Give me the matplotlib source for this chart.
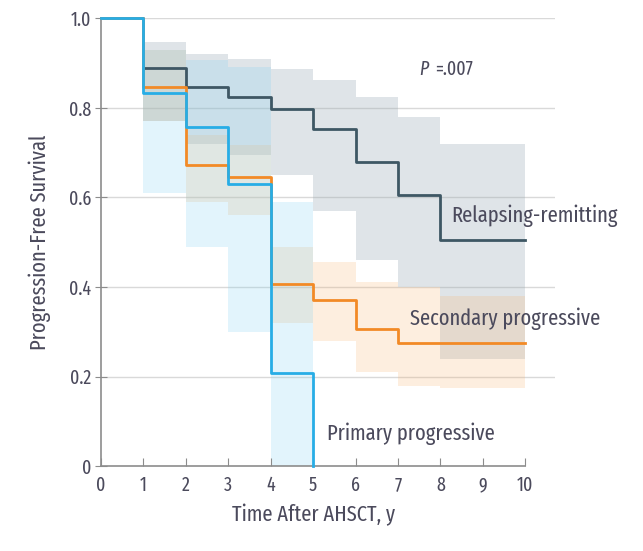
import matplotlib.pyplot as plt

# Kaplan-Meier style step curves, value holds from t[i] to t[i+1]
t_all = [0, 1, 2, 3, 4, 5, 6, 7, 8, 9, 10]

rr_surv = [1.0, 0.888, 0.846, 0.824, 0.797, 0.752, 0.680, 0.605, 0.504, 0.504, 0.504]
rr_lo = [1.0, 0.770, 0.720, 0.694, 0.650, 0.570, 0.460, 0.400, 0.240, 0.240, 0.240]
rr_hi = [1.0, 0.947, 0.920, 0.908, 0.886, 0.861, 0.824, 0.779, 0.720, 0.720, 0.720]

sp_surv = [1.0, 0.846, 0.672, 0.645, 0.406, 0.370, 0.307, 0.274, 0.274, 0.274, 0.274]
sp_lo = [1.0, 0.770, 0.590, 0.560, 0.320, 0.280, 0.210, 0.180, 0.175, 0.175, 0.175]
sp_hi = [1.0, 0.930, 0.740, 0.716, 0.490, 0.455, 0.410, 0.400, 0.380, 0.380, 0.380]

t_pp = [0, 1, 2, 3, 4, 5]
pp_surv = [1.0, 0.833, 0.757, 0.629, 0.207, 0.0]
pp_lo = [1.0, 0.610, 0.490, 0.300, 0.0, 0.0]
pp_hi = [1.0, 0.930, 0.906, 0.890, 0.590, 0.590]

c_rr, c_sp, c_pp = '#3e5764', '#f28a26', '#27ade6'
txt = '#4b4a5c'
font = ['Fira Sans Extra Condensed', 'DejaVu Sans']

fig = plt.figure(figsize=(6.43, 5.51), dpi=100)
ax = fig.add_axes([0.157, 0.154, 0.706, 0.813])

# confidence bands
ax.fill_between(t_all, rr_lo, rr_hi, step='post', color='#98a8b3', alpha=0.3, lw=0)
ax.fill_between(t_all, sp_lo, sp_hi, step='post', color='#f7b26e', alpha=0.22, lw=0)
ax.fill_between(t_pp, pp_lo, pp_hi, step='post', color='#7cd0f2', alpha=0.22, lw=0)

ax.step(t_all, rr_surv, where='post', color=c_rr, lw=2, zorder=4, clip_on=False)
ax.step(t_all, sp_surv, where='post', color=c_sp, lw=2, zorder=4, clip_on=False)
ax.step(t_pp, pp_surv, where='post', color=c_pp, lw=2, zorder=5, clip_on=False)

ax.set_xlim(0, 10.7)
ax.set_ylim(0, 1.0)
ax.set_xticks(range(0, 11))
ax.set_yticks([0, 0.2, 0.4, 0.6, 0.8, 1.0])
ax.set_yticklabels(['0', '0.2', '0.4', '0.6', '0.8', '1.0'])

for y in [0.2, 0.4, 0.6, 0.8, 1.0]:
    ax.axhline(y, color='#d9d9d9', lw=1, zorder=0.5)

for s in ['top', 'right']:
    ax.spines[s].set_visible(False)
ax.spines['bottom'].set_bounds(0, 10)
for s in ['left', 'bottom']:
    ax.spines[s].set_color('#8c8c8c')
    ax.spines[s].set_linewidth(1.2)

ax.tick_params(axis='x', direction='in', length=6, color='#8c8c8c', labelsize=14,
               labelcolor=txt, pad=7)
ax.tick_params(axis='y', direction='inout', length=8, color='#8c8c8c', labelsize=14,
               labelcolor=txt, pad=3)
for lab in ax.get_xticklabels() + ax.get_yticklabels():
    lab.set_family(font)

ax.set_xlabel('Time After AHSCT, y', fontsize=16, color=txt, family=font)
ax.xaxis.set_label_coords(5 / 10.7, -0.085)
ax.set_ylabel('Progression-Free Survival', fontsize=16, color=txt, family=font)
ax.yaxis.set_label_coords(-0.11, 0.5)

ax.text(7.5, 0.885, 'P', fontsize=14, color=txt, family=font, style='italic', va='center')
ax.text(7.88, 0.885, '=.007', fontsize=14, color=txt, family=font, va='center')
ax.text(8.25, 0.558, 'Relapsing-remitting', fontsize=16, color=txt, family=font, va='center')
ax.text(7.28, 0.328, 'Secondary progressive', fontsize=16, color=txt, family=font, va='center')
ax.text(5.33, 0.072, 'Primary progressive', fontsize=16, color=txt, family=font, va='center')

fig.savefig('out.png', dpi=100)
